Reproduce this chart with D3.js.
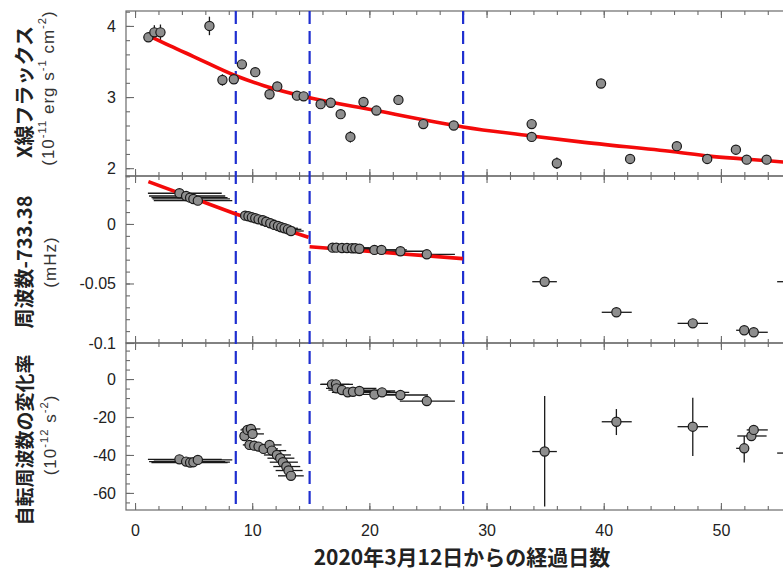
<!DOCTYPE html>
<html>
<head>
<meta charset="utf-8">
<script src="https://cdn.jsdelivr.net/npm/d3@7"></script>
<style>
body { margin: 0; background: #fff; }
text { fill: #222; }
</style>
</head>
<body>
<svg id="chart" width="783" height="575"></svg>
<script>
// X-ray flux (1e-11 erg s-1 cm-2)
const fluxDay = [1.14,1.65,2.17,6.35,7.46,8.43,9.12,10.26,11.48,12.14,13.82,14.39,15.84,16.7,17.55,18.38,19.5,20.6,22.48,24.6,27.2,33.85,33.85,36.0,39.77,42.25,46.24,48.83,51.28,52.2,53.9,55.9];
const fluxVal = [3.84,3.91,3.91,4.00,3.24,3.25,3.46,3.35,3.04,3.15,3.02,3.01,2.90,2.92,2.76,2.44,2.93,2.81,2.96,2.62,2.60,2.62,2.44,2.07,3.19,2.13,2.31,2.13,2.26,2.12,2.12,3.03];
const fluxErr = [0.05,0.10,0.11,0.13,0.08,0.05,0.04,0.04,0.07,0.04,0.06,0.04,0.04,0.04,0.04,0.08,0.04,0.04,0.04,0.04,0.04,0.05,0.05,0.08,0.06,0.04,0.04,0.04,0.04,0.04,0.04,0.04];
const fluxFitDay = [1.1,3,5,8.6,11,14.9,20.6,24.6,28,34,38,46,49,52,56.7];
const fluxFitVal = [3.87,3.72,3.57,3.30,3.16,2.99,2.81,2.68,2.58,2.45,2.37,2.23,2.17,2.13,2.07];

// frequency - 733.38 (mHz), four groups
const freqDay1 = [3.79,4.36,4.70,4.98,5.36];
const freqVal1 = [0.0258,0.0235,0.0221,0.0210,0.0196];
const freqLo1 = [1.1,1.2,1.4,1.5,1.6];
const freqHi1 = [7.4,7.7,7.9,8.1,8.3];
const freqDay2 = [9.40,9.68,9.97,10.26,10.54,10.91,11.20,11.54,11.88,12.20,12.48,12.76,13.05,13.31];
const freqVal2 = [0.0070,0.0065,0.0056,0.0048,0.0039,0.0031,0.0019,0.0006,-0.0008,-0.0017,-0.0028,-0.0036,-0.0045,-0.0059];
const freqLo2 = [9.0,9.1,9.2,9.3,9.5,9.8,10.1,10.4,10.7,11.0,11.3,11.6,11.9,12.2];
const freqHi2 = [10.6,10.9,11.1,11.4,11.7,12.0,12.3,12.6,13.0,13.3,13.6,13.9,14.2,14.4];
const freqDay3 = [16.86,17.18,17.66,18.09,18.52,18.80,19.15,20.43,21.03,22.65,24.9];
const freqVal3 = [-0.0199,-0.0199,-0.0202,-0.0202,-0.0204,-0.0204,-0.0208,-0.0218,-0.0218,-0.0229,-0.0255];
const freqLo3 = [16.0,16.1,16.2,16.4,16.7,17.0,17.3,18.4,19.0,20.4,22.5];
const freqHi3 = [18.6,19.0,19.6,20.0,20.4,20.8,21.2,22.6,23.2,25.0,27.3];
const freqDay4 = [34.96,41.08,47.6,51.99,52.8,55.9];
const freqVal4 = [-0.0485,-0.0742,-0.0835,-0.0893,-0.0910,-0.0485];
const freqLo4 = [33.9,39.83,46.3,51.3,52.0,54.8];
const freqHi4 = [36.0,42.39,48.9,52.4,54.0,56.9];
const freqFitDay = [[1.14,8.6],[8.6,11.7,14.8],[14.9,27.97]];
const freqFitVal = [[0.0356,0.0084],[0.0084,-0.0013,-0.0112],[-0.0191,-0.0291]];

// spin frequency derivative (1e-12 s-2)
const rateVal1 = [-42.3,-43.5,-44.0,-43.8,-42.6];
const rateDay2 = [9.34,9.60,9.89,10.03,9.77,10.17,10.54,10.97,11.48,11.68,12.11,12.39,12.62,12.91,13.10,13.31];
const rateVal2 = [-30.0,-26.8,-26.3,-28.9,-34.7,-35.1,-35.6,-36.8,-34.7,-37.7,-40.0,-41.7,-43.8,-46.1,-48.2,-51.0];
const rateLo2 = [8.95,9.0,9.1,9.3,9.2,9.4,9.6,10.0,10.5,10.6,11.0,11.3,11.5,11.8,12.0,12.2];
const rateHi2 = [10.0,10.4,10.7,11.0,11.2,11.5,11.9,12.2,12.5,12.9,13.3,13.6,13.9,14.1,14.3,14.4];
const rateDay3 = [16.81,17.15,17.2,17.66,18.15,18.60,19.15,20.43,21.08,22.65,24.9];
const rateVal3 = [-2.8,-2.8,-4.9,-5.8,-7.0,-6.7,-6.3,-8.1,-7.0,-8.4,-11.6];
const rateLo3 = [15.8,15.9,16.3,16.5,16.8,17.0,17.4,18.4,19.0,20.4,22.6];
const rateHi3 = [18.3,18.6,20.6,21.0,21.4,21.8,22.2,22.8,23.4,25.0,27.3];
const rateDay4 = [34.96,41.08,47.6,51.99,52.6,52.8,55.9];
const rateVal4 = [-38.2,-22.5,-25.1,-36.5,-30.0,-26.8,-39.0];
const rateLo4 = [33.9,39.83,46.3,51.3,51.4,52.2,54.8];
const rateHi4 = [36.0,42.39,48.9,52.4,53.9,54.0,56.9];
const rateYLo4 = [-67.2,-29.5,-40.5,-44.0,-31.0,-28.0,-45.0];
const rateYHi4 = [-8.9,-15.8,-9.8,-30.0,-29.0,-25.6,-33.0];

// transition days (dashed lines)
const breakDays = [8.6, 14.9, 28.0];

// axis ticks
const dayTicks = [0,10,20,30,40,50];
const fluxTicks = [2,3,4];
const freqTicks = [-0.1,-0.05,0];
const rateTicks = [-60,-40,-20,0];

const svg = d3.select("#chart");
const left = 126, right = 800;
const x = d3.scaleLinear().domain([-0.77, 56.75]).range([left, right]);

const yFlux = d3.scaleLinear().domain([1.89, 4.21]).range([176, 11]);
const yFreq = d3.scaleLinear().domain([-0.1, 0.0403]).range([343, 176]);
const yRate = d3.scaleLinear().domain([-69, 19]).range([510, 343]);

const axisColor = "#6b6b6b";
const tickFont = "'Liberation Sans', Arial, sans-serif";
const cjkFont = "'Noto Sans CJK JP', 'Noto Sans', sans-serif";

function styleAxis(g) {
  g.select(".domain").remove();
  g.selectAll(".tick line").attr("stroke", axisColor).attr("stroke-width", 1.1);
  g.selectAll(".tick text").attr("font-family", tickFont).attr("font-size", 16).attr("fill", "#222");
}

function panelFrame(y, major, minorStep, labels) {
  const [y0, y1] = y.range();
  const minor = d3.range(Math.ceil(y.domain()[0] / minorStep) * minorStep, y.domain()[1], minorStep);
  const xMinor = d3.range(0, 57, 2);
  // frame
  svg.append("rect")
    .attr("x", left).attr("y", y1).attr("width", right - left).attr("height", y0 - y1)
    .attr("fill", "none").attr("stroke", axisColor).attr("stroke-width", 1.2);
  // left axis
  svg.append("g").attr("transform", `translate(${left},0)`)
    .call(d3.axisLeft(y).tickValues(minor).tickSize(-4).tickFormat(""))
    .call(styleAxis);
  svg.append("g").attr("transform", `translate(${left},0)`)
    .call(d3.axisLeft(y).tickValues(major).tickSize(-8).tickPadding(10)
      .tickFormat(d => d === 0 ? "0" : String(d)))
    .call(styleAxis);
  // top and bottom day ticks, pointing inward
  svg.append("g").attr("transform", `translate(0,${y1})`)
    .call(d3.axisTop(x).tickValues(xMinor).tickSize(-4).tickFormat("")).call(styleAxis);
  svg.append("g").attr("transform", `translate(0,${y1})`)
    .call(d3.axisTop(x).tickValues(dayTicks).tickSize(-7).tickFormat("")).call(styleAxis);
  svg.append("g").attr("transform", `translate(0,${y0})`)
    .call(d3.axisBottom(x).tickValues(xMinor).tickSize(-4).tickFormat("")).call(styleAxis);
  svg.append("g").attr("transform", `translate(0,${y0})`)
    .call(d3.axisBottom(x).tickValues(dayTicks).tickSize(-7).tickPadding(15)
      .tickFormat(labels ? d => d : "")).call(styleAxis);
}

panelFrame(yFlux, fluxTicks, 0.2, false);
panelFrame(yFreq, freqTicks, 0.01, false);
panelFrame(yRate, rateTicks, 5, true);

// dashed transition lines
svg.append("g").selectAll("line").data(breakDays).join("line")
  .attr("x1", d => x(d)).attr("x2", d => x(d))
  .attr("y1", 11).attr("y2", 510)
  .attr("stroke", "#1f2fd0").attr("stroke-width", 2.2)
  .attr("stroke-dasharray", "13,7");

const layer = svg.append("g");

function errorBars(y, days, vals, lo, hi, ylo, yhi) {
  const g = layer.append("g").attr("stroke", "#1a1a1a").attr("stroke-width", 1.3);
  if (lo) {
    g.selectAll(".xe").data(days).join("line").attr("class", "xe")
      .attr("x1", (d, i) => x(lo[i])).attr("x2", (d, i) => x(hi[i]))
      .attr("y1", (d, i) => y(vals[i])).attr("y2", (d, i) => y(vals[i]));
  }
  if (ylo) {
    g.selectAll(".ye").data(days).join("line").attr("class", "ye")
      .attr("x1", d => x(d)).attr("x2", d => x(d))
      .attr("y1", (d, i) => y(ylo[i])).attr("y2", (d, i) => y(yhi[i]));
  }
}

function markers(y, days, vals) {
  layer.append("g").selectAll("circle").data(days).join("circle")
    .attr("cx", d => x(d)).attr("cy", (d, i) => y(vals[i])).attr("r", 4.6)
    .attr("fill", "#8e8e8e").attr("stroke", "#1a1a1a").attr("stroke-width", 1.2);
}

function fitLine(y, days, vals) {
  layer.append("path")
    .datum(days.map((d, i) => [d, vals[i]]))
    .attr("fill", "none").attr("stroke", "#f40a0a").attr("stroke-width", 3.6)
    .attr("d", d3.line().x(d => x(d[0])).y(d => y(d[1])).curve(d3.curveMonotoneX));
}

// panel 1: flux
errorBars(yFlux, fluxDay, fluxVal, null, null,
  fluxVal.map((v, i) => v - fluxErr[i]), fluxVal.map((v, i) => v + fluxErr[i]));
fitLine(yFlux, fluxFitDay, fluxFitVal);
markers(yFlux, fluxDay, fluxVal);

// panel 2: frequency
errorBars(yFreq, freqDay1, freqVal1, freqLo1, freqHi1);
errorBars(yFreq, freqDay2, freqVal2, freqLo2, freqHi2);
errorBars(yFreq, freqDay3, freqVal3, freqLo3, freqHi3);
errorBars(yFreq, freqDay4, freqVal4, freqLo4, freqHi4);
freqFitDay.forEach((d, i) => fitLine(yFreq, d, freqFitVal[i]));
markers(yFreq, freqDay1, freqVal1);
markers(yFreq, freqDay2, freqVal2);
markers(yFreq, freqDay3, freqVal3);
markers(yFreq, freqDay4, freqVal4);

// panel 3: frequency derivative
errorBars(yRate, freqDay1, rateVal1, freqLo1, freqHi1);
errorBars(yRate, rateDay2, rateVal2, rateLo2, rateHi2);
errorBars(yRate, rateDay3, rateVal3, rateLo3, rateHi3);
errorBars(yRate, rateDay4, rateVal4, rateLo4, rateHi4, rateYLo4, rateYHi4);
markers(yRate, freqDay1, rateVal1);
markers(yRate, rateDay2, rateVal2);
markers(yRate, rateDay3, rateVal3);
markers(yRate, rateDay4, rateVal4);

// axis titles
function yTitle(cx, cy, parts, size, weight, family, spacing) {
  const t = svg.append("text")
    .attr("transform", `translate(${cx},${cy}) rotate(-90)`)
    .attr("text-anchor", "middle").attr("dominant-baseline", "central")
    .attr("font-family", family).attr("font-size", size).attr("font-weight", weight)
    .attr("letter-spacing", spacing || 0);
  parts.forEach(p => {
    const s = t.append("tspan").text(p[0]);
    if (p[1]) s.attr("baseline-shift", "super").attr("font-size", size * 0.66);
  });
  return t;
}

yTitle(23, 92, [["X線フラックス"]], 20, 700, cjkFont);
yTitle(48, 88, [["(10"], ["-11", 1], [" erg s"], ["-1", 1], [" cm"], ["-2", 1], [")"]], 17, 400, tickFont, 1).style("fill", "#333");
yTitle(23, 262, [["周波数-733.38"]], 20, 700, cjkFont);
yTitle(50, 262, [["(mHz)"]], 17, 400, tickFont, 1).style("fill", "#333");
yTitle(23, 440, [["自転周波数の変化率"]], 19, 700, cjkFont);
yTitle(50, 435, [["(10"], ["-12", 1], [" s"], ["-2", 1], [")"]], 17, 400, tickFont, 1).style("fill", "#333");

svg.append("text")
  .attr("x", 462).attr("y", 565)
  .attr("text-anchor", "middle")
  .attr("font-family", cjkFont).attr("font-size", 21).attr("font-weight", 700)
  .text("2020年3月12日からの経過日数");
</script>
</body>
</html>
